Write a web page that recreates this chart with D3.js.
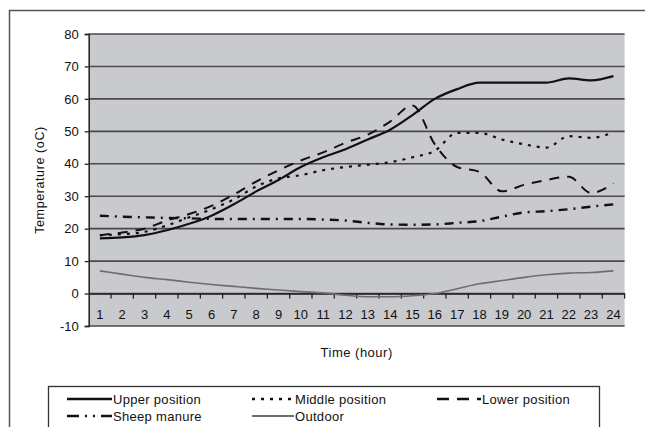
<!DOCTYPE html>
<html><head><meta charset="utf-8">
<script src="https://cdn.jsdelivr.net/npm/d3@7"></script>
<style>
html,body{margin:0;padding:0;background:#fff;}
svg{display:block;font-family:"Liberation Sans",Arial,sans-serif;}
</style></head>
<body><svg id="c" width="645" height="427"></svg>
<script>
const hours = d3.range(1, 25);
const yTicks = [-10, 0, 10, 20, 30, 40, 50, 60, 70, 80];
const upper   = [17, 17.3, 18, 19.5, 21.5, 24, 27.5, 31.5, 35, 39, 42, 44.5, 47.5, 50.5, 55, 60, 63, 65, 65, 65, 65, 66.3, 65.7, 67];
const middle  = [18, 18.3, 19, 21, 23.5, 26, 29, 33, 35.5, 36.5, 38, 39, 39.7, 40.5, 42, 44, 49.5, 49.5, 47.5, 46, 45, 48.5, 48, 49.7];
const lower   = [18, 18.8, 20, 22.5, 24.5, 27, 30.5, 34.5, 38, 41, 43.5, 46.5, 49, 53, 58, 46, 39, 37.5, 31.5, 33.5, 35, 36, 31, 34];
const sheep   = [24, 23.7, 23.5, 23.3, 23.2, 23, 23, 23, 23, 23, 22.8, 22.5, 21.8, 21.3, 21.2, 21.3, 21.8, 22.3, 23.7, 25, 25.4, 26, 26.8, 27.5];
const outdoor = [7, 6, 5, 4.3, 3.5, 2.8, 2.2, 1.6, 1.1, 0.6, 0.2, -0.5, -1, -1, -0.7, 0, 1.5, 3, 4, 5, 5.8, 6.3, 6.5, 7];
const seriesNames = ["Upper position", "Middle position", "Lower position", "Sheep manure", "Outdoor"];

const svg = d3.select("#c");
const txtFill = "#111";
// outer frame
svg.append("rect").attr("x", 9.5).attr("y", 10.5).attr("width", 660).attr("height", 440)
  .attr("fill", "#fff").attr("stroke", "#555").attr("stroke-width", 1.5);

const L = 88.7, R = 624.6, T = 34, B = 326;
const x = d3.scaleBand().domain(hours).range([L, R]).padding(0);
const y = d3.scaleLinear().domain([-10, 80]).range([B, T]);
const cx = h => x(h) + x.bandwidth() / 2;

svg.append("rect").attr("x", L).attr("y", T).attr("width", R - L).attr("height", B - T).attr("fill", "#c9cacd");

// gridlines
svg.append("g").selectAll("line").data(yTicks).join("line")
  .attr("x1", L).attr("x2", R).attr("y1", d => y(d)).attr("y2", d => y(d))
  .attr("stroke", "#4a4a4a").attr("stroke-width", 1.6);

// left axis
const ya = svg.append("g").attr("transform", `translate(${L},0)`)
  .call(d3.axisLeft(y).tickValues(yTicks).tickSize(4).tickPadding(6).tickFormat(d => String(d)));
ya.select(".domain").attr("stroke", "#222").attr("stroke-width", 1.5);
ya.selectAll(".tick line").attr("stroke", "#222").attr("stroke-width", 1.3);
ya.selectAll("text").attr("font-size", 13).attr("fill", txtFill).attr("font-family", "Liberation Sans, Arial");

// x axis at 0
const xa = svg.append("g").attr("transform", `translate(0,${y(0)})`)
  .call(d3.axisBottom(x).tickSize(0).tickPadding(16));
xa.select(".domain").attr("stroke", "#222").attr("stroke-width", 1.6);
xa.selectAll("text").attr("font-size", 13).attr("fill", txtFill).attr("font-family", "Liberation Sans, Arial");
// tick marks at band boundaries
svg.append("g").selectAll("line").data(hours).join("line")
  .attr("x1", d => x(d) + x.bandwidth()).attr("x2", d => x(d) + x.bandwidth())
  .attr("y1", y(0)).attr("y2", y(0) + 5)
  .attr("stroke", "#222").attr("stroke-width", 1.3);

// titles
svg.append("text").attr("transform", `translate(44,${(T + B) / 2}) rotate(-90)`)
  .attr("text-anchor", "middle").attr("font-size", 12.5).attr("letter-spacing", 0.6)
  .attr("fill", txtFill).text("Temperature (oC)");
svg.append("text").attr("x", (L + R) / 2).attr("y", 357)
  .attr("text-anchor", "middle").attr("font-size", 13).attr("letter-spacing", 0.5)
  .attr("fill", txtFill).text("Time (hour)");

// lines
const styles = [
  { data: upper,   stroke: "#111", w: 2.2, dash: null,        legDash: null },
  { data: middle,  stroke: "#111", w: 2.2, dash: "3,6",       legDash: "3,6" },
  { data: lower,   stroke: "#111", w: 2.0, dash: "10,8",      legDash: "12,8" },
  { data: sheep,   stroke: "#111", w: 2.4, dash: "9,6,2,6",   legDash: "12,6,2,6,2,6" },
  { data: outdoor, stroke: "#6e6e6e", w: 1.6, dash: null,     legDash: null }
];
const line = d3.line().x((d, i) => cx(hours[i])).y(d => y(d)).curve(d3.curveMonotoneX);
const order = [4, 3, 1, 2, 0];
order.forEach(k => {
  const s = styles[k];
  svg.append("path").datum(s.data).attr("d", line)
    .attr("fill", "none").attr("stroke", s.stroke).attr("stroke-width", s.w)
    .attr("stroke-dasharray", s.dash).attr("stroke-linejoin", "round");
});

// legend
svg.append("rect").attr("x", 48.5).attr("y", 386.5).attr("width", 551).attr("height", 60)
  .attr("fill", "#fff").attr("stroke", "#333").attr("stroke-width", 1.3);
const legPos = [
  { x: 67, y: 399 }, { x: 252, y: 399 }, { x: 437, y: 399 },
  { x: 67, y: 416 }, { x: 252, y: 416 }
];
const legLen = [45, 42, 44, 45, 42];
seriesNames.forEach((n, k) => {
  const p = legPos[k], s = styles[k];
  svg.append("line").attr("x1", p.x).attr("x2", p.x + legLen[k]).attr("y1", p.y).attr("y2", p.y)
    .attr("stroke", s.stroke).attr("stroke-width", s.w + 0.3).attr("stroke-dasharray", s.legDash);
  svg.append("text").attr("x", p.x + legLen[k] + 1).attr("y", p.y + 5)
    .attr("font-size", 13).attr("letter-spacing", 0.3).attr("fill", txtFill).text(n);
});
</script></body></html>
